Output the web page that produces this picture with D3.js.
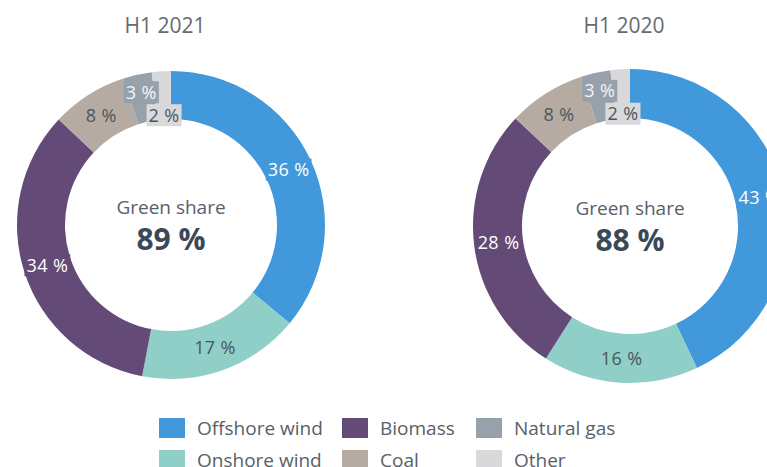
<!DOCTYPE html>
<html lang="en">
<head>
    <meta charset="UTF-8">
    <title>Green share H1 2021 vs H1 2020</title>
    <script src="https://d3js.org/d3.v7.min.js"></script>
    <style>
        body {
            margin: 0;
            background: #fff;
            font-family: "Open Sans", Lato, sans-serif;
        }
        svg { display: block; }
    </style>
</head>
<body>
    <svg id="chart" width="767" height="467"></svg>
    <script>
        // data
        const categories = ["Offshore wind", "Onshore wind", "Biomass", "Coal", "Natural gas", "Other"];
        const values2021 = [36, 17, 34, 8, 3, 2];
        const values2020 = [43, 16, 28, 8, 3, 2];
        const periods = ["H1 2021", "H1 2020"];
        const greenShares = [89, 88];

        const colors = ["#4199db", "#90cfc7", "#644a77", "#b5aba2", "#97a1ab", "#d9d9db"];
        const labelColors = ["#fff", "#4b5660", "#fff", "#4b5660", "#f4f4f6", "#4b5660"];

        const svg = d3.select("#chart");

        const charts = [
            { title: periods[0], values: values2021, share: greenShares[0], cx: 171, cy: 225, r: 154, ri: 106 },
            { title: periods[1], values: values2020, share: greenShares[1], cx: 630, cy: 226, r: 157, ri: 108 }
        ];

        const pie = d3.pie().sort(null).value(d => d);

        charts.forEach(c => {
            const g = svg.append("g").attr("transform", `translate(${c.cx},${c.cy})`);
            const arc = d3.arc().innerRadius(c.ri).outerRadius(c.r);
            const arcs = pie(c.values);

            g.selectAll("path")
                .data(arcs)
                .enter()
                .append("path")
                .attr("d", arc)
                .attr("fill", (d, i) => colors[i]);

            // labels, small slices get staggered in and out
            const lab = g.selectAll(".lab")
                .data(arcs)
                .enter()
                .append("g")
                .attr("class", "lab")
                .attr("transform", (d, i) => {
                    const a = (d.startAngle + d.endAngle) / 2;
                    let rr = (c.r + c.ri) / 2;
                    if (d.data < 5) rr += (i % 2 === 0 ? 6 : -20);
                    return `translate(${Math.sin(a) * rr},${-Math.cos(a) * rr})`;
                });

            lab.append("rect")
                .attr("fill", (d, i) => colors[i]);

            lab.append("text")
                .attr("text-anchor", "middle")
                .attr("dy", "0.36em")
                .attr("font-size", 18)
                .attr("letter-spacing", 0.4)
                .attr("fill", (d, i) => labelColors[i])
                .text(d => d.data + " %");

            lab.each(function () {
                const b = d3.select(this).select("text").node().getBBox();
                d3.select(this).select("rect")
                    .attr("x", b.x - 2)
                    .attr("y", -11)
                    .attr("width", b.width + 4)
                    .attr("height", 22);
            });

            svg.append("text")
                .attr("x", c.cx - 6)
                .attr("y", 33)
                .attr("text-anchor", "middle")
                .attr("font-size", 21)
                .attr("fill", "#666b70")
                .text(c.title);

            g.append("text")
                .attr("y", -11)
                .attr("text-anchor", "middle")
                .attr("font-size", 19)
                .attr("fill", "#56606a")
                .text("Green share");

            g.append("text")
                .attr("y", 25)
                .attr("text-anchor", "middle")
                .attr("font-size", 30)
                .attr("font-weight", "bold")
                .attr("fill", "#3b4957")
                .text(c.share + " %");
        });

        // legend, three columns of two
        const colX = [159, 342, 476];
        const rowY = [418, 450];
        const legend = svg.selectAll(".legend")
            .data(categories)
            .enter()
            .append("g")
            .attr("class", "legend")
            .attr("transform", (d, i) => `translate(${colX[Math.floor(i / 2)]},${rowY[i % 2]})`);

        legend.append("rect")
            .attr("width", 26)
            .attr("height", 20)
            .attr("fill", (d, i) => colors[i]);

        legend.append("text")
            .attr("x", 38)
            .attr("y", 10)
            .attr("dy", "0.36em")
            .attr("font-size", 19)
            .attr("fill", "#5a6068")
            .text(d => d);
    </script>
</body>
</html>
